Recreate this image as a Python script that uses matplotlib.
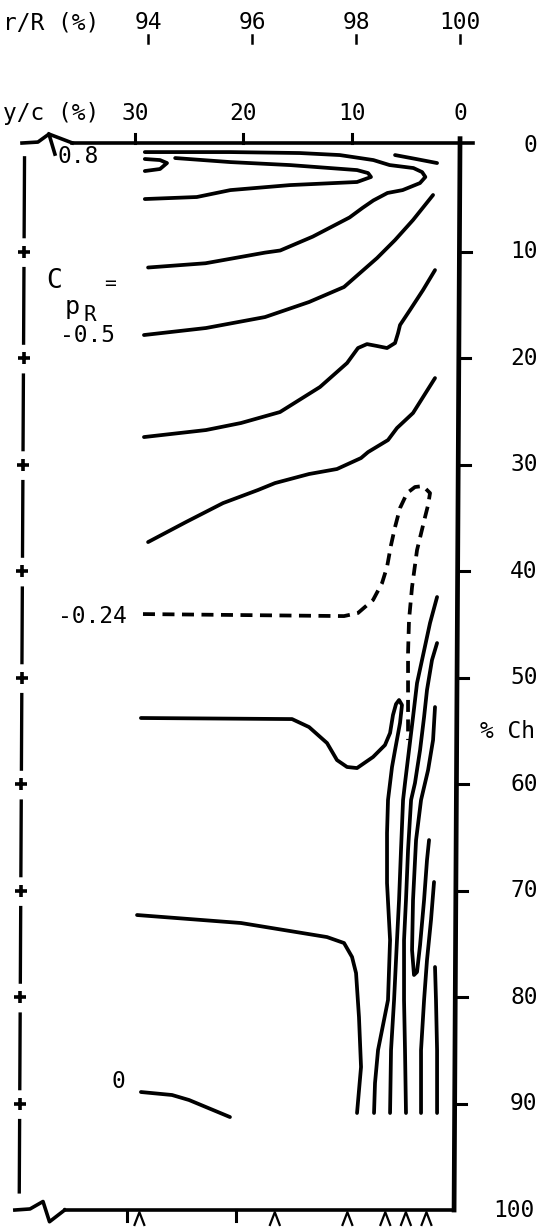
import numpy as np
import matplotlib.pyplot as plt

plt.rcParams['font.family'] = ['DejaVu Sans Mono', 'DejaVu Sans']

# ---- data: pressure contours, as (y/c %, % chord) ----
line_top = [(29.1, 0.66), (21.2, 0.66), (14.8, 0.75), (11.1, 0.94), (8.0, 1.41), (6.5, 1.88),
            (4.3, 2.16), (3.5, 2.54), (3.2, 3.0), (3.7, 3.57), (5.3, 4.23), (6.7, 4.5),
            (8.0, 5.2), (9.0, 5.9), (10.2, 6.8), (13.6, 8.6), (16.6, 9.9), (18.0, 10.1),
            (23.5, 11.1), (28.8, 11.5)]
line_hook = [(29.1, 1.31), (27.7, 1.41), (27.05, 1.69), (27.7, 2.25), (29.1, 2.44)]
line_finger = [(26.3, 1.22), (21.2, 1.6), (15.7, 1.88), (9.51, 2.35), (8.49, 2.63), (8.22, 3.0),
               (9.51, 3.47), (15.7, 3.76), (21.2, 4.23), (24.3, 4.88), (29.1, 5.07)]
line_edge = [(6.0, 0.94), (4.06, 1.31), (2.12, 1.69)]
line_05 = [(2.49, 4.69), (4.34, 7.04), (6.0, 8.92), (7.66, 10.61), (10.71, 13.33), (13.94, 14.74),
           (18.0, 16.15), (23.45, 17.18), (29.18, 17.84)]
line_f = [(2.31, 11.74), (3.42, 13.62), (4.62, 15.49), (5.54, 16.9), (5.72, 17.65), (6.0, 18.59),
          (6.74, 19.06), (7.66, 18.87), (8.59, 18.69), (9.42, 19.06), (10.43, 20.47),
          (12.93, 22.72), (16.62, 25.07), (20.22, 26.1), (23.45, 26.76), (29.18, 27.42)]
line_g = [(2.31, 21.88), (4.34, 25.16), (5.82, 26.57), (6.65, 27.7), (8.49, 28.83), (9.14, 29.39),
          (11.36, 30.42), (13.94, 30.89), (17.08, 31.74), (18.65, 32.39), (21.88, 33.62),
          (25.3, 35.4), (28.8, 37.28)]
line_024 = [(29.27, 44.04), (10.71, 44.23), (9.42, 43.94), (8.03, 42.72), (7.2, 41.13), (6.74, 39.62),
            (6.37, 37.56), (6.0, 35.87), (5.54, 34.08), (4.89, 32.68), (4.16, 32.11), (3.42, 32.02),
            (2.77, 32.68), (2.95, 33.8), (3.23, 34.93), (3.97, 38.03), (4.43, 41.5), (4.71, 44.6),
            (4.8, 47.7), (4.8, 52.11), (4.8, 55.87)]
line_i = [(29.46, 53.8), (15.51, 53.9), (13.94, 54.65), (12.28, 56.15), (11.36, 57.75), (10.43, 58.4),
          (9.51, 58.5), (8.03, 57.46), (6.93, 56.34), (6.46, 55.21), (6.19, 53.52), (5.91, 52.49),
          (5.63, 52.11), (5.36, 52.58), (5.54, 54.27), (6.0, 56.81), (6.28, 58.4), (6.65, 61.5),
          (6.74, 64.6), (6.74, 69.3), (6.46, 74.65), (6.65, 80.28), (7.57, 84.98), (7.85, 88.08),
          (7.94, 90.89)]
line_p = [(29.82, 72.3), (20.22, 73.05), (12.28, 74.37), (10.71, 74.93), (9.97, 76.24), (9.6, 77.75),
          (9.33, 81.88), (9.14, 86.57), (9.51, 90.89)]
line_zero = [(29.46, 88.92), (26.59, 89.2), (25.02, 89.67), (21.24, 91.27)]
line_j = [(2.12, 42.44), (2.77, 44.88), (3.51, 48.36), (3.97, 50.52), (4.34, 53.71), (4.71, 56.81),
          (5.08, 59.91), (5.26, 61.5), (5.45, 66.2), (5.63, 70.89), (5.82, 74.65), (6.09, 80.28),
          (6.37, 84.98), (6.46, 90.89)]
line_k = [(2.12, 46.76), (2.59, 48.36), (3.05, 51.17), (3.32, 53.71), (3.69, 56.81), (4.16, 59.91),
          (4.52, 61.5), (4.8, 66.2), (4.99, 70.89), (5.17, 74.65), (5.17, 80.28), (5.08, 84.98),
          (4.99, 90.89)]
line_loop = [(2.31, 52.77), (2.49, 55.87), (2.95, 58.69), (3.6, 61.5), (4.06, 65.26), (4.34, 70.89),
             (4.43, 75.59), (4.25, 77.93), (3.97, 77.65), (3.69, 75.12), (3.32, 70.89), (3.05, 67.14),
             (2.86, 65.26)]
line_n = [(2.4, 69.2), (2.68, 72.77), (3.05, 76.53), (3.32, 80.28), (3.6, 84.98), (3.6, 90.89)]
line_o = [(2.31, 77.18), (2.22, 80.28), (2.12, 84.98), (2.12, 90.89)]

solid_lines = [line_top, line_hook, line_finger, line_edge, line_05, line_f, line_g,
               line_i, line_p, line_zero, line_j, line_k, line_loop, line_n, line_o]

chord_ticks = [10, 20, 30, 40, 50, 60, 70, 80, 90]
yc_ticks = [30, 20, 10]
rR_ticks = [94, 96, 98, 100]
stations = [29.6, 17.1, 10.4, 6.9, 5.0, 3.1]

# ---- figure: one axes over the whole canvas, y/c runs right to left ----
fig = plt.figure(figsize=(5.39, 12.31), dpi=100)
ax = fig.add_axes([0, 0, 1, 1])
ax.set_xlim(42.47, -7.29)
ax.set_ylim(101.97, -13.62)
ax.axis('off')

lw = 2.7
for ln in solid_lines:
    a = np.array(ln)
    ax.plot(a[:, 0], a[:, 1], color='black', lw=lw, solid_capstyle='round', solid_joinstyle='round')
a = np.array(line_024)
ax.plot(a[:, 0], a[:, 1], color='black', lw=lw, linestyle=(0, (3.2, 2.0)))

# frame
ax.plot([35.8, -1.2], [-0.2, -0.2], color='black', lw=2.6)
ax.plot([40.44, 38.97, 37.95, 37.4], [-0.19, -0.28, -1.03, 0.85], color='black', lw=2.6)
ax.plot([37.95, 35.8], [-1.03, -0.2], color='black', lw=2.6)
ax.plot([0.0, 0.55], [-0.6, 100.0], color='black', lw=3.4)
ax.plot([36.5, 0.55], [100.0, 100.0], color='black', lw=2.6)
ax.plot([41.1, 39.7, 38.5, 37.9, 36.5], [100.0, 99.9, 99.2, 101.1, 100.0], color='black', lw=2.6)

# left dash-dot edge with + marks
edge_x = lambda c: 40.2 + 0.5 * c / 100
starts = [1.2] + [c + 1.6 for c in chord_ticks]
ends = [c - 1.4 for c in chord_ticks] + [98.3]
for s, e in zip(starts, ends):
    ax.plot([edge_x(s), edge_x(e)], [s, e], color='black', lw=2.4)
ax.plot([edge_x(c) for c in chord_ticks], chord_ticks, linestyle='none', marker='+',
        ms=9, mew=2.6, color='black')

# ticks
for t in yc_ticks:
    ax.plot([t, t], [-0.2, -1.0], color='black', lw=2.2)
for t in [30.7, 20.7]:
    ax.plot([t, t], [100.0, 101.0], color='black', lw=2.2)
for c in chord_ticks:
    x0 = 0.55 * c / 100
    ax.plot([x0, x0 - 1.05], [c, c], color='black', lw=2.2)
for r in rR_ticks:
    x = (100 - r) * 4.8
    ax.plot([x, x], [-10.3, -9.6], color='black', lw=1.8)

# station carets under the bottom edge
for s in stations:
    ax.plot([s + 0.45, s, s - 0.45], [101.4, 100.2, 101.4], color='black', lw=1.6)

fs = 16.5
ax.text(42.2, -11.5, 'r/R (%)', fontsize=fs, ha='left', va='center')
for r in rR_ticks:
    ax.text((100 - r) * 4.8, -11.5, str(r), fontsize=fs, ha='center', va='center')
ax.text(42.2, -3.0, 'y/c (%)', fontsize=fs, ha='left', va='center')
for t in [30, 20, 10, 0]:
    ax.text(t, -3.0, str(t), fontsize=fs, ha='center', va='center')

ax.text(-5.82, 0, '0', fontsize=fs, ha='left', va='center')
for c in chord_ticks:
    ax.text(-4.62, c, str(c), fontsize=fs, ha='left', va='center')
ax.text(-3.05, 100, '100', fontsize=fs, ha='left', va='center')
ax.text(-1.85, 55.1, '% Ch', fontsize=fs, ha='left', va='center')

ax.text(35.3, 1.03, '0.8', fontsize=fs, ha='center', va='center')
ax.text(37.49, 12.77, 'C', fontsize=19, ha='center', va='center')
ax.text(35.83, 15.2, 'p', fontsize=18, ha='center', va='center')
ax.text(34.16, 15.96, 'R', fontsize=15, ha='center', va='center')
ax.text(32.32, 12.96, '=', fontsize=14, ha='center', va='center')
ax.text(34.35, 17.93, '-0.5', fontsize=fs, ha='center', va='center')
ax.text(33.98, 44.23, '-0.24', fontsize=fs, ha='center', va='center')
ax.text(31.58, 87.89, '0', fontsize=fs, ha='center', va='center')

fig.savefig('out.png', dpi=100)
